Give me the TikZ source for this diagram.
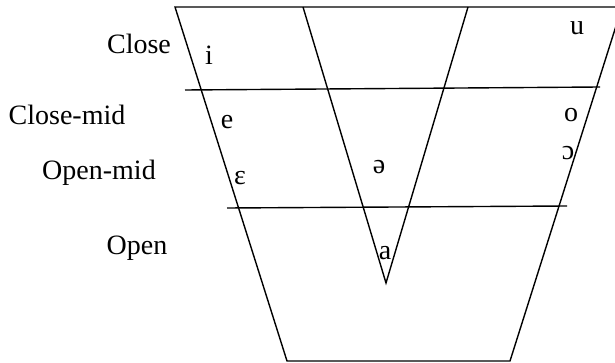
\documentclass[tikz,border=0pt]{standalone}
\usepackage{fontspec}
\setmainfont{Liberation Serif}
\tikzset{
  chart/.style={line width=1.4pt},
  height label/.style={font=\fontsize{28}{32}\selectfont, inner sep=0pt},
  vowel/.style={font=\fontsize{28}{32}\selectfont, inner sep=0pt}
}
\begin{document}
\begin{tikzpicture}[x=1pt,y=-1pt]
\useasboundingbox (0,0) rectangle (615,363);
\coordinate (tl) at (175,7);
\coordinate (tr) at (622,7);
\coordinate (bl) at (287,361);
\coordinate (br) at (510,361);
\coordinate (vl) at (303,7);
\coordinate (vr) at (468,7);
\coordinate (vb) at (386,283);
\coordinate (cm1) at (185,90);
\coordinate (cm2) at (600,87);
\coordinate (op1) at (227,208);
\coordinate (op2) at (567,206);
\draw[chart] (tl) -- (tr) -- (br) -- (bl) -- cycle;
\draw[chart] (vl) -- (vb) -- (vr);
\draw[chart] (cm1) -- (cm2);
\draw[chart] (op1) -- (op2);
\node[height label] (close) at (139,44) {Close};
\node[height label] (closemid) at (67,115) {Close-mid};
\node[height label] (openmid) at (99,173) {Open-mid};
\node[height label] (open) at (137,248) {Open};
\node[vowel] (i) at (209,55) {i};
\node[vowel] (e) at (227,122) {e};
\node[vowel] (eps) at (240,178) {ɛ};
\node[vowel] (schwa) at (379,167) {ə};
\node[vowel] (a) at (385,253) {a};
\node[vowel] (u) at (577,28) {u};
\node[vowel] (o) at (571,115) {o};
\node[vowel] (openo) at (568,153) {ɔ};
\end{tikzpicture}
\end{document}
